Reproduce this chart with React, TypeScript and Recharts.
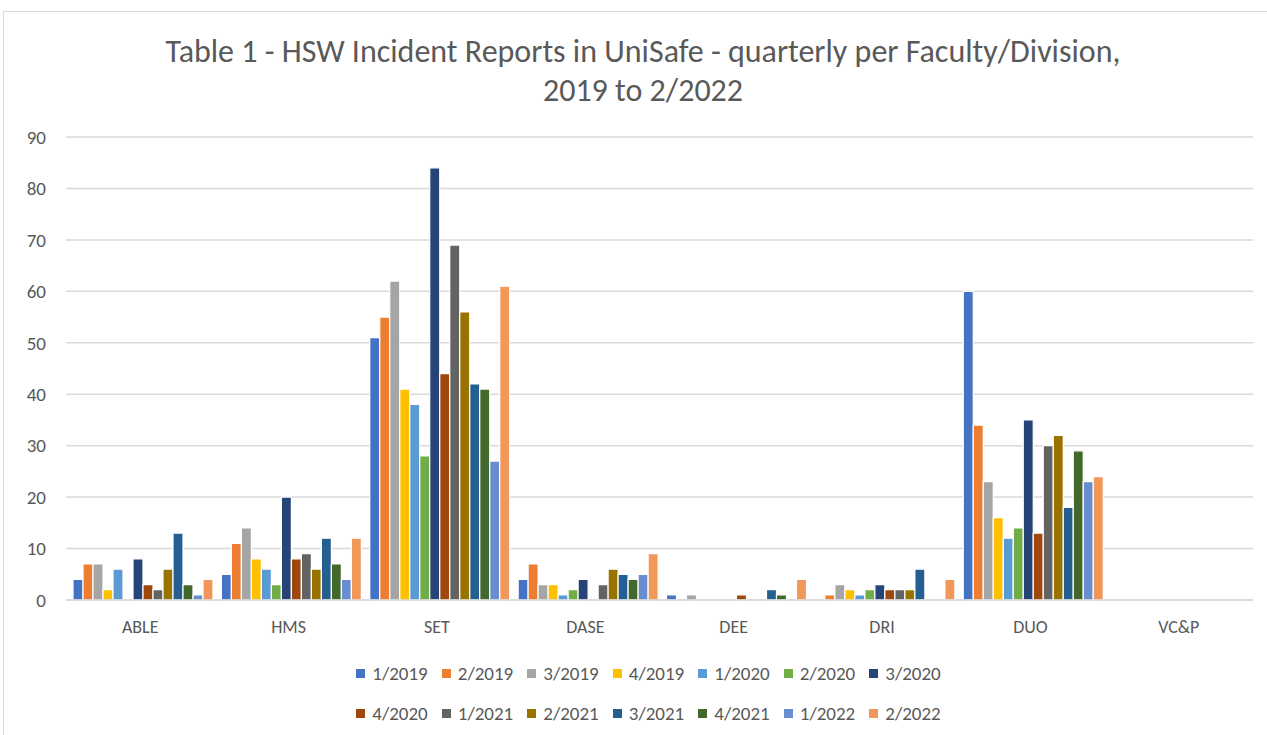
import { BarChart, Bar, XAxis, YAxis, CartesianGrid, Legend } from "recharts";

const FONT = "Carlito, Lato, 'Liberation Sans', sans-serif";
const TEXT = "#595959";

const categories = ["ABLE", "HMS", "SET", "DASE", "DEE", "DRI", "DUO", "VC&P"];

const quarters = [
  "1/2019", "2/2019", "3/2019", "4/2019", "1/2020", "2/2020", "3/2020",
  "4/2020", "1/2021", "2/2021", "3/2021", "4/2021", "1/2022", "2/2022",
];

const colors = [
  "#4472C4", "#ED7D31", "#A5A5A5", "#FFC000", "#5B9BD5", "#70AD47", "#264478",
  "#9E480E", "#636363", "#997300", "#255E91", "#43682B", "#698ED0", "#F1975A",
];

// values per faculty, in quarter order
const able = [4, 7, 7, 2, 6, 0, 8, 3, 2, 6, 13, 3, 1, 4];
const hms = [5, 11, 14, 8, 6, 3, 20, 8, 9, 6, 12, 7, 4, 12];
const set = [51, 55, 62, 41, 38, 28, 84, 44, 69, 56, 42, 41, 27, 61];
const dase = [4, 7, 3, 3, 1, 2, 4, 0, 3, 6, 5, 4, 5, 9];
const dee = [1, 0, 1, 0, 0, 0, 0, 1, 0, 0, 2, 1, 0, 4];
const dri = [0, 1, 3, 2, 1, 2, 3, 2, 2, 2, 6, 0, 0, 4];
const duo = [60, 34, 23, 16, 12, 14, 35, 13, 30, 32, 18, 29, 23, 24];
const vcp = [0, 0, 0, 0, 0, 0, 0, 0, 0, 0, 0, 0, 0, 0];

const yTicks = [0, 10, 20, 30, 40, 50, 60, 70, 80, 90];

const byCategory = [able, hms, set, dase, dee, dri, duo, vcp];

const rows = categories.map((name, i) => {
  const row: Record<string, string | number> = { name };
  quarters.forEach((q, j) => {
    row[q] = byCategory[i][j];
  });
  return row;
});

function LegendRows() {
  const half = Math.ceil(quarters.length / 2);
  const lines = [quarters.slice(0, half), quarters.slice(half)];
  return (
    <div style={{ paddingTop: 23, fontFamily: FONT }}>
      {lines.map((line, li) => (
        <div
          key={li}
          style={{ display: "flex", justifyContent: "center", height: 40, alignItems: "center", paddingLeft: 58 }}
        >
          {line.map((q) => {
            const idx = quarters.indexOf(q);
            return (
              <div key={q} style={{ display: "flex", alignItems: "center", marginRight: 14 }}>
                <span style={{ width: 9, height: 9, background: colors[idx], display: "inline-block", marginRight: 7 }} />
                <span style={{ fontSize: 19, color: TEXT }}>{q}</span>
              </div>
            );
          })}
        </div>
      ))}
    </div>
  );
}

export default function App() {
  return (
    <div style={{ position: "absolute", left: 0, top: 0, width: 1267, height: 735, background: "#fff", overflow: "hidden" }}>
      <div
        style={{
          position: "absolute",
          left: 3,
          top: 11,
          width: 1275,
          height: 740,
          border: "1px solid #d9d9d9",
          boxSizing: "border-box",
        }}
      />
      <div
        style={{
          position: "absolute",
          left: 0,
          width: 1286,
          top: 32,
          textAlign: "center",
          fontFamily: FONT,
          fontSize: 32,
          lineHeight: "39px",
          color: TEXT,
        }}
      >
        Table 1 - HSW Incident Reports in UniSafe - quarterly per Faculty/Division,
        <br />
        2019 to 2/2022
      </div>
      <div style={{ position: "absolute", left: 0, top: 0 }}>
        <BarChart
          width={1267}
          height={735}
          data={rows}
          margin={{ top: 137, right: 14, left: 0, bottom: 2 }}
          barCategoryGap={7}
          barGap={0}
        >
          <CartesianGrid vertical={false} stroke="#d9d9d9" strokeWidth={1.5} />
          <XAxis
            dataKey="name"
            tickLine={false}
            axisLine={{ stroke: "#d9d9d9", strokeWidth: 1.5 }}
            tick={{ fill: TEXT, fontSize: 18, fontFamily: FONT }}
            tickMargin={14}
            height={30}
            interval={0}
          />
          <YAxis
            width={66}
            domain={[0, 90]}
            ticks={yTicks}
            axisLine={false}
            tickLine={false}
            tickMargin={14}
            tick={{ fill: TEXT, fontSize: 19, fontFamily: FONT }}
          />
          <Legend verticalAlign="bottom" content={() => <LegendRows />} />
          {quarters.map((q, i) => (
            <Bar
              key={q}
              dataKey={q}
              fill={colors[i]}
              stroke="#ffffff"
              strokeWidth={1.2}
              isAnimationActive={false}
            />
          ))}
        </BarChart>
      </div>
    </div>
  );
}
